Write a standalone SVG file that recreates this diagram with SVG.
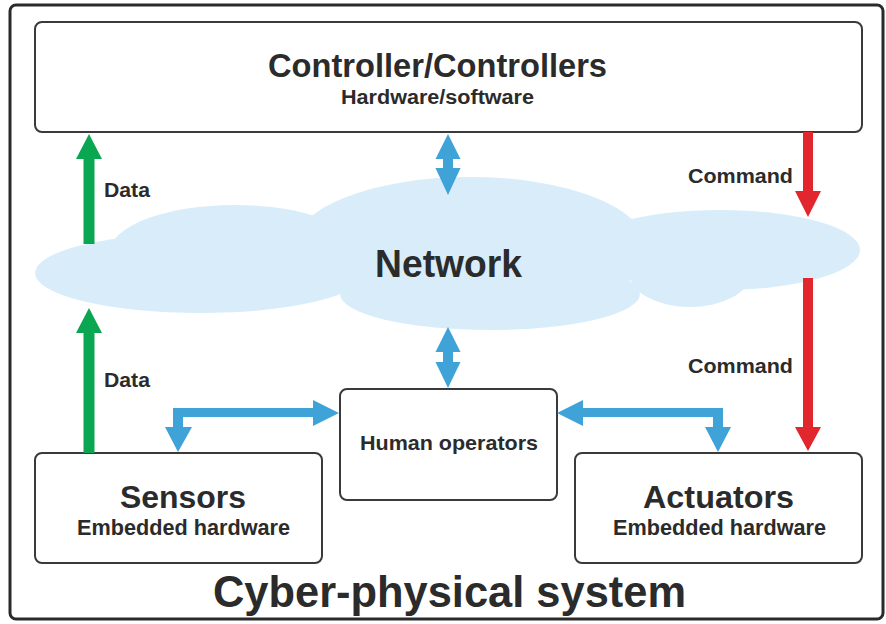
<svg xmlns="http://www.w3.org/2000/svg" width="886" height="624" viewBox="0 0 886 624">
<style>
text{font-family:"Liberation Sans",Arial,sans-serif;font-weight:bold;fill:#2b2b2b;text-anchor:middle}
.box{fill:#fff;stroke:#3a3a3a;stroke-width:2}
.cloud{fill:#d8edf9}
.blue{fill:#3fa3d8}
.green{fill:#0ba651}
.red{fill:#e2262d}
</style>
<rect width="886" height="624" fill="#fff"/>
<rect x="10" y="5" width="873" height="614" rx="6" fill="#fff" stroke="#2a2a2a" stroke-width="3"/>
<g id="network">
<g class="cloud">
<ellipse cx="200" cy="273" rx="165" ry="40"/>
<ellipse cx="235" cy="252" rx="125" ry="47"/>
<ellipse cx="470" cy="245" rx="175" ry="68"/>
<ellipse cx="490" cy="294" rx="150" ry="36"/>
<ellipse cx="720" cy="250" rx="140" ry="40"/>
<ellipse cx="690" cy="274" rx="60" ry="33"/>
</g>
<text x="448.5" y="277" font-size="39" textLength="147" lengthAdjust="spacingAndGlyphs">Network</text>
</g>
<g id="controller">
<rect class="box" x="35" y="22" width="827" height="110" rx="7"/>
<text x="437.5" y="77" font-size="33" textLength="339" lengthAdjust="spacingAndGlyphs">Controller/Controllers</text>
<text x="437.5" y="104" font-size="20" textLength="193" lengthAdjust="spacingAndGlyphs">Hardware/software</text>
</g>
<g id="human">
<rect class="box" x="340" y="389" width="217" height="111" rx="7"/>
<text x="449" y="450" font-size="21" textLength="178" lengthAdjust="spacingAndGlyphs">Human operators</text>
</g>
<g id="sensors">
<rect class="box" x="35" y="453" width="287" height="110" rx="7"/>
<text x="183" y="508" font-size="32" textLength="126" lengthAdjust="spacingAndGlyphs">Sensors</text>
<text x="183.5" y="535" font-size="22" textLength="213" lengthAdjust="spacingAndGlyphs">Embedded hardware</text>
</g>
<g id="actuators">
<rect class="box" x="575" y="453" width="287" height="110" rx="7"/>
<text x="718.5" y="508" font-size="32" textLength="151" lengthAdjust="spacingAndGlyphs">Actuators</text>
<text x="719.5" y="535" font-size="22" textLength="213" lengthAdjust="spacingAndGlyphs">Embedded hardware</text>
</g>
<g id="connectors">
<polygon class="green" points="89,134 102,159 94.5,159 94.5,244 83.5,244 83.5,159 76,159"/>
<polygon class="green" points="89,308 102,333 94.5,333 94.5,453 83.5,453 83.5,333 76,333"/>
<polygon class="blue" points="448,134 460.5,159 453,159 453,168 460.5,168 448,195 435.5,168 443,168 443,159 435.5,159"/>
<polygon class="blue" points="448,327 460.5,352 453,352 453,362 460.5,362 448,388 435.5,362 443,362 443,352 435.5,352"/>
<polygon class="blue" points="173,408 313,408 313,400 339,413 313,426 313,417 183,417 183,427 192,427 178,452 165,427 173,427"/>
<polygon class="blue" points="557,413 583,400 583,408 723,408 723,427 731,427 718,452 705,427 713,427 713,417 583,417 583,426"/>
<polygon class="red" points="803,132 813,132 813,191 821,191 808,217 795,191 803,191"/>
<polygon class="red" points="803,278 813,278 813,427 821,427 808,451 795,427 803,427"/>
<text x="127" y="197" font-size="20" textLength="46" lengthAdjust="spacingAndGlyphs">Data</text>
<text x="127" y="387" font-size="20" textLength="46" lengthAdjust="spacingAndGlyphs">Data</text>
<text x="740.5" y="183" font-size="21" textLength="105" lengthAdjust="spacingAndGlyphs">Command</text>
<text x="740.5" y="373" font-size="21" textLength="105" lengthAdjust="spacingAndGlyphs">Command</text>
</g>
<text x="449.5" y="607" font-size="45" textLength="473" lengthAdjust="spacingAndGlyphs">Cyber-physical system</text>
</svg>
